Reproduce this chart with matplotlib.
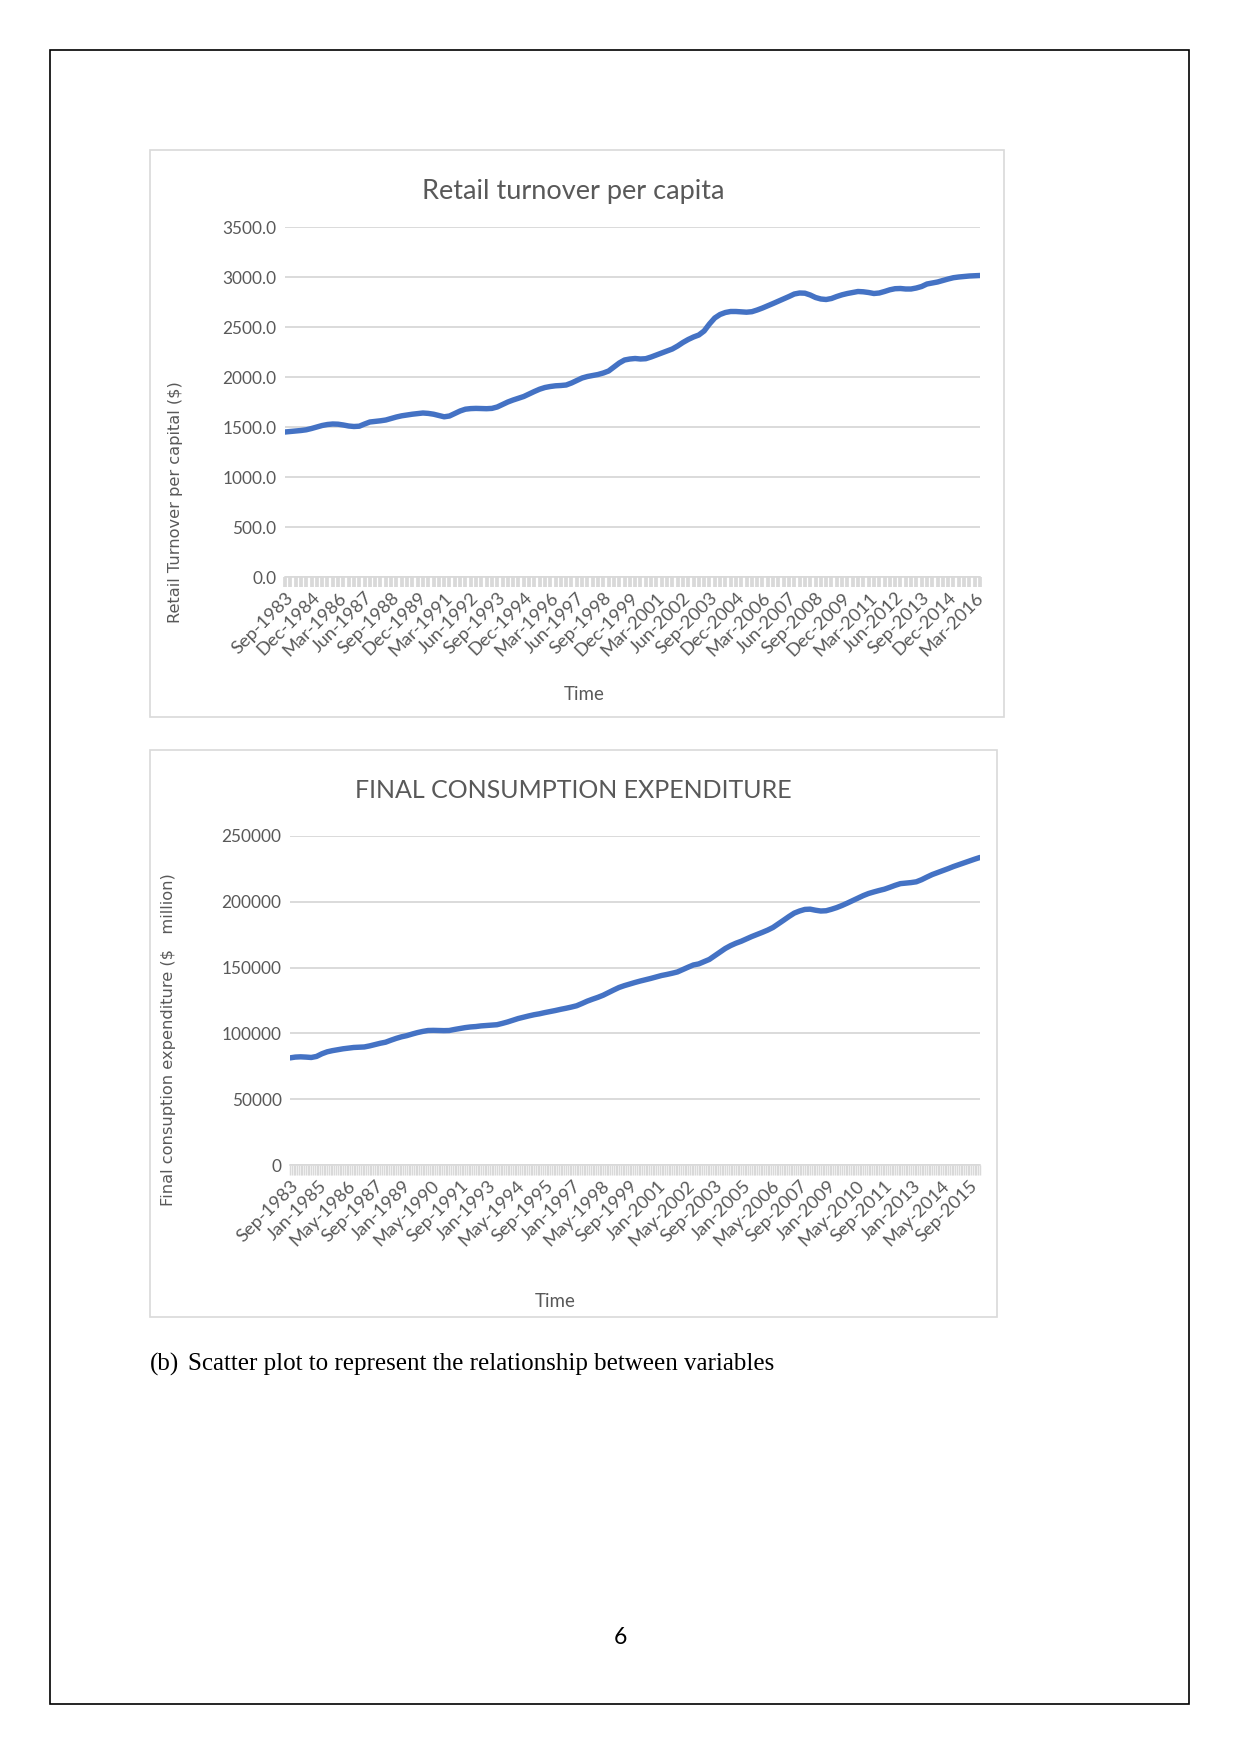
import matplotlib
matplotlib.use("Agg")
import matplotlib.pyplot as plt
from matplotlib.patches import Rectangle

# quarterly retail turnover per capita, Sep-1983 .. Jun-2016
retail = [1450, 1455, 1460, 1465, 1472, 1485,
          1500, 1515, 1525, 1530,
          1528, 1520, 1510, 1505, 1508,
          1530, 1550, 1556, 1562, 1570,
          1585, 1600, 1612, 1620, 1628, 1634, 1640,
          1636, 1628, 1615, 1602,
          1610, 1635, 1660, 1678,
          1684, 1686, 1684, 1683, 1686,
          1700, 1725, 1750, 1770, 1788, 1805,
          1830, 1855, 1878, 1895,
          1905, 1912, 1915, 1920,
          1940, 1965, 1990, 2005,
          2015, 2025, 2040, 2060,
          2100, 2140, 2170, 2180,
          2185, 2180, 2183,
          2200, 2220, 2240, 2260, 2280,
          2310, 2345, 2375, 2400, 2420,
          2460, 2530, 2590,
          2625, 2645, 2655,
          2655, 2652, 2648, 2653,
          2670, 2690, 2712, 2735,
          2758, 2780, 2805, 2830, 2840,
          2838, 2820, 2795, 2780, 2775,
          2785, 2805, 2822, 2835,
          2845, 2855,
          2852, 2845, 2835,
          2840, 2855, 2872, 2883,
          2885, 2880, 2880,
          2890, 2905, 2930,
          2940, 2950,
          2965, 2980, 2993,
          3000, 3005, 3010, 3013, 3015]

# quarterly final consumption expenditure ($ million), Sep-1983 .. Mar-2016
consumption = [81400, 82000, 82200, 82000, 81700,
               82500, 84500, 86000, 86900,
               87600, 88300, 88800,
               89300, 89500, 89700,
               90500, 91500, 92500, 93300,
               94800, 96200, 97400, 98300,
               99500, 100600, 101500, 102200,
               102300, 102200, 102100, 102200,
               103000, 103700, 104400, 104900, 105200,
               105700, 106000, 106300, 106600,
               107600, 108700, 110000, 111300,
               112300, 113300, 114200, 114900,
               115800, 116600, 117400, 118300, 119100,
               120000, 121000,
               122700, 124500, 126000,
               127400, 129000,
               131000, 133000, 134900,
               136300, 137500, 138700, 139800,
               140800, 141800, 142900, 144000,
               144800, 145700, 146700,
               148500, 150300, 152000, 152800,
               154500, 156200,
               159000, 161800, 164500, 166700,
               168500, 170000, 171800, 173600,
               175200, 176800, 178500, 180500,
               183200, 186000, 188800, 191400,
               193000, 194200, 194400,
               193600, 193000, 193200,
               194300, 195600, 197200,
               199000, 200900, 202800, 204700, 206300,
               207500, 208600, 209600,
               211000, 212500, 213800,
               214200, 214600, 215200,
               216800, 218800, 220700,
               222200, 223700, 225200, 226800,
               228200, 229600, 231000, 232400, 233700]

retail_labels = ["Sep-1983", "Dec-1984", "Mar-1986", "Jun-1987", "Sep-1988", "Dec-1989",
                 "Mar-1991", "Jun-1992", "Sep-1993", "Dec-1994", "Mar-1996", "Jun-1997",
                 "Sep-1998", "Dec-1999", "Mar-2001", "Jun-2002", "Sep-2003", "Dec-2004",
                 "Mar-2006", "Jun-2007", "Sep-2008", "Dec-2009", "Mar-2011", "Jun-2012",
                 "Sep-2013", "Dec-2014", "Mar-2016"]
cons_labels = ["Sep-1983", "Jan-1985", "May-1986", "Sep-1987", "Jan-1989", "May-1990",
               "Sep-1991", "Jan-1993", "May-1994", "Sep-1995", "Jan-1997", "May-1998",
               "Sep-1999", "Jan-2001", "May-2002", "Sep-2003", "Jan-2005", "May-2006",
               "Sep-2007", "Jan-2009", "May-2010", "Sep-2011", "Jan-2013", "May-2014",
               "Sep-2015"]

W, H = 1241, 1754
LINE = "#4472C4"
GRID = "#D9D9D9"
TXT = "#595959"
FONT = "Lato"


def px_axes(fig, x0, y0, x1, y1):
    return fig.add_axes([x0 / W, 1 - y1 / H, (x1 - x0) / W, (y1 - y0) / H])


def style(ax, ylim, yticks, yfmt, ylabel, xlabel, ytick_size=8.3):
    ax.set_ylim(*ylim)
    ax.set_yticks(yticks)
    ax.set_yticklabels([yfmt.format(v) for v in yticks], fontsize=ytick_size,
                       color=TXT, family=FONT)
    ax.grid(axis="y", color=GRID, lw=0.9)
    ax.set_axisbelow(True)
    for s in ["top", "right", "left"]:
        ax.spines[s].set_visible(False)
    ax.spines["bottom"].set_color(GRID)
    ax.tick_params(axis="y", length=0, pad=4)
    ax.tick_params(axis="x", direction="out", color=GRID, length=5, pad=1,
                   labelsize=8.8, labelcolor=TXT)
    for t in ax.get_xticklabels():
        t.set_rotation(45)
        t.set_ha("right")
        t.set_rotation_mode("anchor")
        t.set_family(FONT)
    ax.set_ylabel(ylabel, fontsize=7.8, color=TXT, family="DejaVu Sans")
    ax.set_xlabel(xlabel, fontsize=9, color=TXT, family=FONT)


fig = plt.figure(figsize=(W / 150, H / 150), dpi=150)

# page border and chart boxes
fig.patches.append(Rectangle((50 / W, 1 - 1704 / H), 1139 / W, 1654 / H,
                             transform=fig.transFigure, fill=False, ec="black", lw=0.8))
fig.patches.append(Rectangle((150 / W, 1 - 717 / H), 854 / W, 567 / H,
                             transform=fig.transFigure, fill=False, ec=GRID, lw=0.8))
fig.patches.append(Rectangle((150 / W, 1 - 1317 / H), 847 / W, 567 / H,
                             transform=fig.transFigure, fill=False, ec=GRID, lw=0.8))

# chart 1
ax1 = px_axes(fig, 285, 227, 980, 577)
x1 = list(range(len(retail)))
ax1.plot(x1, retail, color=LINE, lw=2.6, solid_capstyle="round")
ax1.set_xlim(0, len(retail) - 1)
lab1 = ["" for _ in x1]
for i, s in enumerate(retail_labels):
    lab1[i * 5] = s
ax1.set_xticks(x1)
ax1.set_xticklabels(lab1)
style(ax1, (0, 3500), list(range(0, 3501, 500)), "{:.1f}",
      "Retail Turnover per capital ($)", "Time")
ax1.tick_params(axis="x", width=1.8)
ax1.yaxis.set_label_coords(-0.147, 0.214)
ax1.xaxis.set_label_coords(0.43, -0.311)
fig.text(573 / W, 1 - 191 / H, "Retail turnover per capita", ha="center", va="center",
         fontsize=13, color=TXT, family=FONT)

# chart 2 (monthly axis, quarterly points)
ax2 = px_axes(fig, 290, 836, 980, 1165)
x2 = [3 * i for i in range(len(consumption))]
ax2.plot(x2, consumption, color=LINE, lw=2.6, solid_capstyle="round")
ax2.set_xlim(0, x2[-1])
months = list(range(x2[-1] + 1))
lab2 = ["" for _ in months]
for i, s in enumerate(cons_labels):
    lab2[i * 16] = s
ax2.set_xticks(months)
ax2.set_xticklabels(lab2)
style(ax2, (0, 250000), list(range(0, 250001, 50000)), "{:d}",
      "Final consuption expenditure ($   million)", "Time")
ax2.tick_params(axis="x", width=0.7)
ax2.yaxis.set_label_coords(-0.165, 0.38)
ax2.xaxis.set_label_coords(0.385, -0.39)
fig.text(573 / W, 1 - 791 / H, "FINAL CONSUMPTION EXPENDITURE", ha="center", va="center",
         fontsize=12, color=TXT, family=FONT)

# caption and page number
fig.text(150 / W, 1 - 1364 / H, "(b)", ha="left", va="center", fontsize=12,
         family="Liberation Serif", color="black")
fig.text(188 / W, 1 - 1364 / H, "Scatter plot to represent the relationship between variables",
         ha="left", va="center", fontsize=12, family="Liberation Serif", color="black")
fig.text(620 / W, 1 - 1638 / H, "6", ha="center", va="center", fontsize=11,
         family=FONT, color="black")

fig.savefig("out.png", dpi=150)
